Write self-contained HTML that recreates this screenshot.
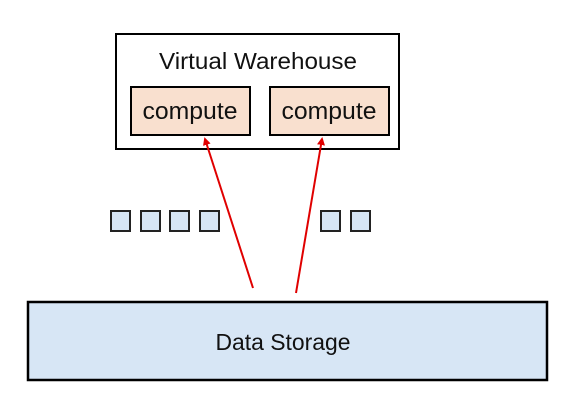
<!DOCTYPE html>
<html><head><style>
body{margin:0;width:575px;height:405px;background:#fff;overflow:hidden;font-family:"Liberation Sans",sans-serif;}
</style></head><body>
<svg width="575" height="405" xmlns="http://www.w3.org/2000/svg" font-family="Liberation Sans, sans-serif">
<defs><marker id="a" markerWidth="8" markerHeight="8" refX="6" refY="4" orient="auto" markerUnits="userSpaceOnUse"><path d="M0,0 L8,4 L0,8 z" fill="#e00000"/></marker></defs>
<rect x="116" y="34" width="283" height="115" fill="#fff" stroke="#000" stroke-width="2"/>
<text x="258" y="69" font-size="23" text-anchor="middle" fill="#111" textLength="198" lengthAdjust="spacingAndGlyphs">Virtual Warehouse</text>
<rect x="131" y="87" width="119" height="48" fill="#f9e0cf" stroke="#000" stroke-width="2"/>
<text x="190" y="119" font-size="24" text-anchor="middle" fill="#111" textLength="95" lengthAdjust="spacingAndGlyphs">compute</text>
<rect x="270" y="87" width="119" height="48" fill="#f9e0cf" stroke="#000" stroke-width="2"/>
<text x="329" y="119" font-size="24" text-anchor="middle" fill="#111" textLength="95" lengthAdjust="spacingAndGlyphs">compute</text>
<g fill="#d6e5f5" stroke="#222" stroke-width="2">
<rect x="111" y="211" width="19" height="20"/><rect x="141" y="211" width="19" height="20"/>
<rect x="170" y="211" width="19" height="20"/><rect x="200" y="211" width="19" height="20"/>
<rect x="321" y="211" width="19" height="20"/><rect x="351" y="211" width="19" height="20"/>
</g>
<line x1="253" y1="288" x2="205" y2="139" stroke="#e00000" stroke-width="2" marker-end="url(#a)"/>
<line x1="296" y1="293" x2="322" y2="139" stroke="#e00000" stroke-width="2" marker-end="url(#a)"/>
<rect x="28" y="302" width="519" height="78" fill="#d7e6f5" stroke="#000" stroke-width="2.5"/>
<text x="283" y="350" font-size="23" text-anchor="middle" fill="#111" textLength="135" lengthAdjust="spacingAndGlyphs">Data Storage</text>
</svg>
</body></html>
